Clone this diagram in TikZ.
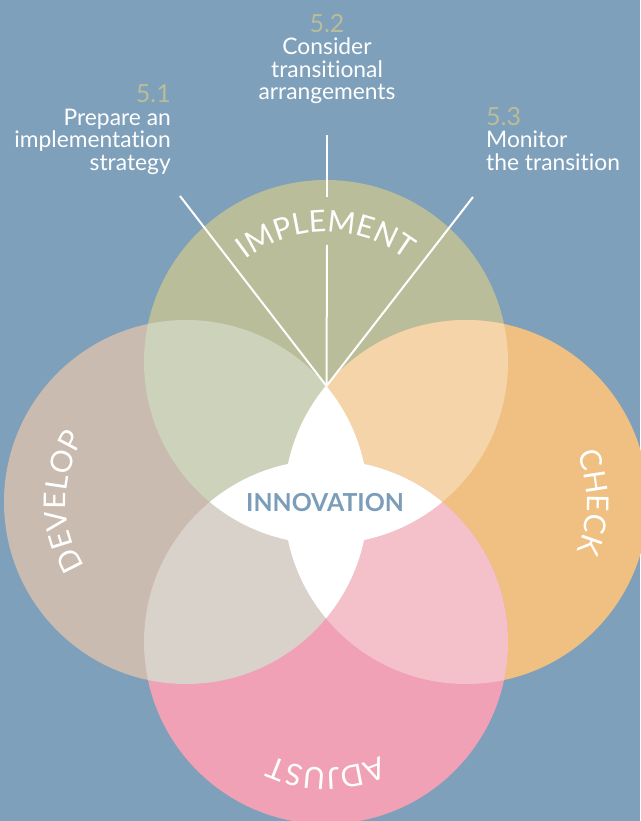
\documentclass[tikz,border=0pt]{standalone}
\usepackage{fontspec}
\setmainfont{Lato}[Ligatures={NoCommon}]
\usetikzlibrary{decorations.text}
\definecolor{bgc}{HTML}{7FA0BA}
\definecolor{ctop}{HTML}{B9BD99}
\definecolor{cleft}{HTML}{C9BBAF}
\definecolor{cright}{HTML}{EFC081}
\definecolor{cbot}{HTML}{F1A1B5}
\definecolor{ctl}{HTML}{CDD2BA}
\definecolor{ctr}{HTML}{F4D4A8}
\definecolor{clb}{HTML}{D9D2CA}
\definecolor{crb}{HTML}{F4C1CB}
\definecolor{cinno}{HTML}{7B9DB9}
\definecolor{cnum}{HTML}{B9BD99}
\newcommand{\circfont}{\fontsize{30}{30}\selectfont}
\tikzset{
  wline/.style={draw=white, line width=2pt},
  lbl/.style={text=white, font=\fontsize{22.8}{22.8}\selectfont, inner sep=0pt},
  numlbl/.style={text=cnum, font=\fontsize{25}{25}\selectfont, inner sep=0pt},
  arctext/.style={decorate, decoration={text along path, text={|\circfont|#1}, text align=center, text color=white}}
}
\begin{document}
\begin{tikzpicture}[x=1pt,y=1pt]
\fill[bgc] (0,0) rectangle (640,821);
\useasboundingbox (0,0) rectangle (640,821);
\def\rr{182}
\coordinate (T) at (326,459);
\coordinate (L) at (186,319);
\coordinate (R) at (466,319);
\coordinate (B) at (326,179);
% circles
\fill[ctop] (T) circle[radius=\rr];
\fill[cleft] (L) circle[radius=\rr];
\fill[cright] (R) circle[radius=\rr];
\fill[cbot] (B) circle[radius=\rr];
% pairwise overlaps
\begin{scope}\clip (T) circle[radius=\rr]; \fill[ctl] (L) circle[radius=\rr];\end{scope}
\begin{scope}\clip (T) circle[radius=\rr]; \fill[ctr] (R) circle[radius=\rr];\end{scope}
\begin{scope}\clip (B) circle[radius=\rr]; \fill[clb] (L) circle[radius=\rr];\end{scope}
\begin{scope}\clip (B) circle[radius=\rr]; \fill[crb] (R) circle[radius=\rr];\end{scope}
% white star
\begin{scope}\clip (T) circle[radius=\rr]; \fill[white] (B) circle[radius=\rr];\end{scope}
\begin{scope}\clip (L) circle[radius=\rr]; \fill[white] (R) circle[radius=\rr];\end{scope}
% lines
\coordinate (S) at (326.5,435);
\coordinate (A1) at (180,625);
\coordinate (A2) at (327,686);
\coordinate (G1) at (327,624);
\coordinate (G2) at (327,576);
\coordinate (A3) at (473,624);
\draw[wline] (S) -- (A1);
\draw[wline] (S) -- (G2);
\draw[wline] (G1) -- (A2);
\draw[wline] (S) -- (A3);
% circle labels
\path[arctext=IMPLEMENT] ([shift={(160:130)}]T) arc[start angle=160, end angle=20, radius=130];
\path[arctext=DEVELOP] ([shift={(230:120)}]L) arc[start angle=230, end angle=130, radius=120];
\path[arctext=CHECK] ([shift={(50:121)}]R) arc[start angle=50, end angle=-50, radius=121];
\path[arctext=ADJUST] ([shift={(-40:126)}]B) arc[start angle=-40, end angle=-140, radius=126];
% centre
\node[text=cinno, font=\bfseries\fontsize{24.8}{24.8}\selectfont, inner sep=0pt] (inno) at (325,318) {INNOVATION};
% step labels
\node[numlbl, anchor=base east] (n1) at (171,718) {5.1};
\node[lbl, anchor=base east] (l1a) at (171,695) {Prepare an};
\node[lbl, anchor=base east] (l1b) at (171,673) {implementation};
\node[lbl, anchor=base east] (l1c) at (171,650) {strategy};
\node[numlbl, anchor=base] (n2) at (327,788) {5.2};
\node[lbl, anchor=base] (l2a) at (327,766) {Consider};
\node[lbl, anchor=base] (l2b) at (327,743.5) {transitional};
\node[lbl, anchor=base] (l2c) at (327,721) {arrangements};
\node[numlbl, anchor=base west] (n3) at (486,695) {5.3};
\node[lbl, anchor=base west] (l3a) at (486,673) {Monitor};
\node[lbl, anchor=base west] (l3b) at (486,650) {the transition};
\end{tikzpicture}
\end{document}
